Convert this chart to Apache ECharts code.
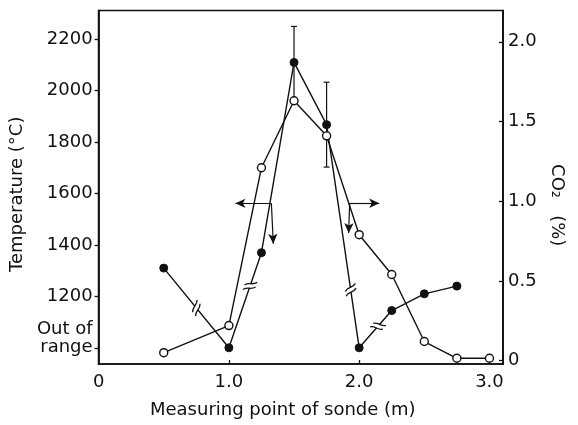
<!DOCTYPE html>
<html>
<head>
<meta charset="utf-8">
<script src="https://cdn.jsdelivr.net/npm/echarts@6/dist/echarts.min.js"></script>
<style>
html,body{margin:0;padding:0;background:#fff;}
#chart{width:578px;height:425px;}
</style>
</head>
<body>
<div id="chart"></div>
<script>
// ---- data ----
const tempX = [0.5, 1.0, 1.25, 1.5, 1.75, 2.0, 2.25, 2.5, 2.75];
const temperature = [1310, 1000, 1370, 2110, 1868, 1000, 1145, 1210, 1240];
const co2X = [0.5, 1.0, 1.25, 1.5, 1.75, 2.0, 2.25, 2.5, 2.75, 3.0];
const co2 = [0.05, 0.22, 1.21, 1.63, 1.41, 0.79, 0.54, 0.12, 0.015, 0.015];
// error bars on temperature (x, half range in °C)
const errX = [1.5, 1.75];
const errHalf = [140, 165];
// axis break marks on temperature segments (segment start index, fraction along it)
const breakSeg = [0, 1, 4, 5];
const breakFrac = [0.5, 0.65, 0.74, 0.58];
// tick labels
const xTicks = [0, 1, 2, 3];
const tempTicks = [1000, 1200, 1400, 1600, 1800, 2000, 2200];
const co2Ticks = [0, 0.5, 1.0, 1.5, 2.0];
// pointer annotations (data units)
const tempPointerH = [[1.326, 1562], [1.05, 1562]];
const tempPointerV = [[1.326, 1562], [1.341, 1405]];
const co2PointerH = [[1.927, 0.987], [2.154, 0.987]];
const co2PointerV = [[1.927, 0.987], [1.919, 0.80]];

const INK = '#111';
const FONT = 'DejaVu Sans';

const tempData = tempX.map((x, i) => [x, temperature[i]]);
const co2Data = co2X.map((x, i) => [x, co2[i]]);
const errData = errX.map((x, i) => {
  const c = temperature[tempX.indexOf(x)];
  return [x, c - errHalf[i], c + errHalf[i]];
});
const breakData = breakSeg.map((s, k) => {
  const f = breakFrac[k];
  return [tempX[s] + (tempX[s + 1] - tempX[s]) * f,
          temperature[s] + (temperature[s + 1] - temperature[s]) * f, s];
});

const chart = echarts.init(document.getElementById('chart'), null, {renderer: 'canvas'});

const option = {
  animation: false,
  backgroundColor: '#fff',
  grid: {left: 93, right: 75, top: 10.5, bottom: 61, show: true,
         borderColor: INK, borderWidth: 1.7, backgroundColor: 'transparent'},
  xAxis: {
    type: 'value', min: 0, max: 3.104,
    name: 'Measuring point of sonde (m)', nameLocation: 'middle', nameGap: 37,
    nameTextStyle: {color: INK, fontFamily: FONT, fontSize: 18, padding: [0, 36, 0, 0]},
    axisLine: {show: true, onZero: false, lineStyle: {color: INK, width: 1.7}},
    axisTick: {show: true, inside: true, length: 4, customValues: [1, 2, 3], lineStyle: {color: INK, width: 1.3}},
    axisLabel: {customValues: xTicks, color: INK, fontFamily: FONT, fontSize: 18, margin: 9,
                formatter: v => v === 0 ? '0' : v.toFixed(1)},
    splitLine: {show: false}
  },
  yAxis: [{
    type: 'value', min: 937, max: 2312, position: 'left',
    name: 'Temperature (°C)', nameLocation: 'middle', nameGap: 60,
    nameTextStyle: {color: INK, fontFamily: FONT, fontSize: 18, padding: [0, 0, 0, -14]},
    axisLine: {show: true, onZero: false, lineStyle: {color: INK, width: 1.7}},
    axisTick: {show: true, inside: false, length: 4, customValues: tempTicks, lineStyle: {color: INK, width: 1.3}},
    axisLabel: {customValues: tempTicks, color: INK, fontFamily: FONT, fontSize: 18, margin: 6, lineHeight: 18,
                formatter: v => v === 1000 ? 'Out of\nrange\n ' : String(v)},
    splitLine: {show: false}
  }, {
    type: 'value', min: -0.021, max: 2.196, position: 'right',
    name: 'CO\u2082   (%)', nameLocation: 'middle', nameGap: 43, nameRotate: -90,
    nameTextStyle: {color: INK, fontFamily: FONT, fontSize: 18, padding: [0, 0, 0, 36]},
    axisLine: {show: true, onZero: false, lineStyle: {color: INK, width: 1.7}},
    axisTick: {show: true, inside: true, length: 4, customValues: co2Ticks, lineStyle: {color: INK, width: 1.3}},
    axisLabel: {customValues: co2Ticks, color: INK, fontFamily: FONT, fontSize: 18, margin: 5,
                formatter: v => v === 0 ? '0' : v.toFixed(1)},
    splitLine: {show: false}
  }],
  series: [
    {
      type: 'custom', name: 'err', xAxisIndex: 0, yAxisIndex: 0, silent: true, z: 1,
      data: errData, encode: {x: 0, y: [1, 2]},
      renderItem: (params, api) => {
        const lo = api.coord([api.value(0), api.value(1)]);
        const hi = api.coord([api.value(0), api.value(2)]);
        const w = 3;
        const st = {stroke: INK, lineWidth: 1.2};
        return {type: 'group', children: [
          {type: 'line', shape: {x1: lo[0], y1: lo[1], x2: hi[0], y2: hi[1]}, style: st},
          {type: 'line', shape: {x1: lo[0] - w, y1: lo[1], x2: lo[0] + w, y2: lo[1]}, style: st},
          {type: 'line', shape: {x1: hi[0] - w, y1: hi[1], x2: hi[0] + w, y2: hi[1]}, style: st}
        ]};
      }
    },
    {
      type: 'line', name: 'Temperature', xAxisIndex: 0, yAxisIndex: 0, data: tempData,
      symbol: 'circle', symbolSize: 8, z: 3,
      itemStyle: {color: INK, borderColor: INK},
      lineStyle: {color: INK, width: 1.4},
      emphasis: {disabled: true},
      markLine: {
        silent: true, symbol: ['none', 'arrow'], symbolSize: [7, 10],
        label: {show: false}, emphasis: {disabled: true},
        lineStyle: {color: INK, width: 1.2, type: 'solid'},
        data: [
          [{coord: tempPointerH[0]}, {coord: tempPointerH[1]}],
          [{coord: tempPointerV[0]}, {coord: tempPointerV[1]}]
        ]
      }
    },
    {
      type: 'line', name: 'CO2', xAxisIndex: 0, yAxisIndex: 1, data: co2Data,
      symbol: 'circle', symbolSize: 8, z: 4,
      itemStyle: {color: '#fff', borderColor: INK, borderWidth: 1.4},
      lineStyle: {color: INK, width: 1.4},
      emphasis: {disabled: true},
      markLine: {
        silent: true, symbol: ['none', 'arrow'], symbolSize: [7, 10],
        label: {show: false}, emphasis: {disabled: true},
        lineStyle: {color: INK, width: 1.2, type: 'solid'},
        data: [
          [{coord: co2PointerH[0]}, {coord: co2PointerH[1]}],
          [{coord: co2PointerV[0]}, {coord: co2PointerV[1]}]
        ]
      }
    },
    {
      type: 'custom', name: 'breaks', xAxisIndex: 0, yAxisIndex: 0, silent: true, z: 5,
      data: breakData, encode: {x: 0, y: 1},
      renderItem: (params, api) => {
        const s = api.value(2);
        const p0 = api.coord([tempX[s], temperature[s]]);
        const p1 = api.coord([tempX[s + 1], temperature[s + 1]]);
        const c = api.coord([api.value(0), api.value(1)]);
        let dx = p1[0] - p0[0], dy = p1[1] - p0[1];
        const L = Math.hypot(dx, dy); dx /= L; dy /= L;
        const nx = -dy, ny = dx;
        const half = 6.5, gap = 2.4;
        const sx = nx * 0.85 + dx * 0.5, sy = ny * 0.85 + dy * 0.5;
        const sl = Math.hypot(sx, sy);
        const ux = sx / sl, uy = sy / sl;
        const st = {stroke: INK, lineWidth: 1.3};
        const kids = [{type: 'line', shape: {x1: c[0] - dx * gap, y1: c[1] - dy * gap, x2: c[0] + dx * gap, y2: c[1] + dy * gap},
                       style: {stroke: '#fff', lineWidth: 3}}];
        [-gap, gap].forEach(o => {
          const ox = c[0] + dx * o, oy = c[1] + dy * o;
          kids.push({type: 'bezierCurve', shape: {
            x1: ox - ux * half, y1: oy - uy * half, x2: ox + ux * half, y2: oy + uy * half,
            cpx1: ox - ux * half * 0.3 + dx * 2.5, cpy1: oy - uy * half * 0.3 + dy * 2.5,
            cpx2: ox + ux * half * 0.3 - dx * 2.5, cpy2: oy + uy * half * 0.3 - dy * 2.5
          }, style: Object.assign({fill: 'none'}, st)});
        });
        return {type: 'group', children: kids};
      }
    }
  ]
};
chart.setOption(option);
</script>
</body>
</html>
